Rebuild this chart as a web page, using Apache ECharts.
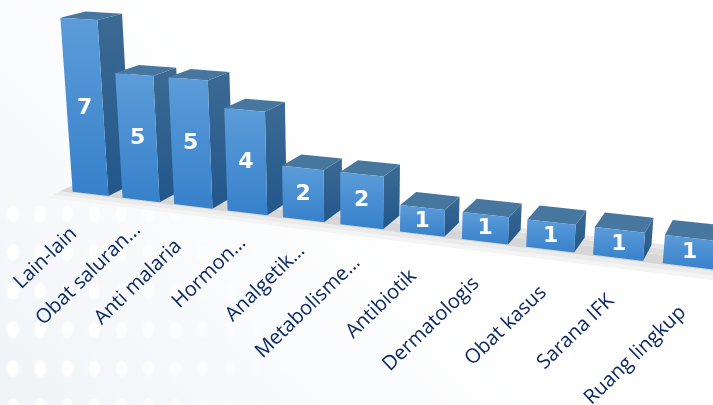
<!DOCTYPE html>
<html>
<head>
<meta charset="utf-8">
<style>html,body{margin:0;padding:0;background:#fff}#chart{width:713px;height:405px}</style>
<script src="https://cdn.jsdelivr.net/npm/echarts@6/dist/echarts.min.js"></script>
</head>
<body>
<div id="chart"></div>
<script>
const categories = ['Lain-lain','Obat saluran…','Anti malaria','Hormon…','Analgetik…','Metabolisme…','Antibiotik','Dermatologis','Obat kasus','Sarana IFK','Ruang lingkup'];
const counts = [7,5,5,4,2,2,1,1,1,1,1];

// Homography from (category X, value V, depth Z) to the page.
const WX = -0.01695, WV = -0.006, WZ = 0.0305;
function project(X, V, Z) {
  const w = 1 + WX * X + WV * V + WZ * Z;
  return [
    (72.7 + 47.77 * X + WV * 354 * V + WZ * 882 * Z) / w,
    (191.7 + 2.697 * X + WV * 4158 * V + WZ * -186 * Z) / w
  ];
}

const BAR_WIDTH = 0.72;
const NAVY = '#0a2863';
const grad = (a, b) => ({type: 'linear', x: 0, y: 0, x2: 0, y2: 1, colorStops: [{offset: 0, color: a}, {offset: 1, color: b}]});

// Nudges for the rotated category labels, relative to each bar's floor point.
const labelNudge = [[-16,37],[-3,27],[-14,37],[-4,27],[-1,28],[-4,33],[-8,39],[-8,39],[-6,40],[-6,40],[-5,43]];

// Flat-plane pixels from the cartesian axes, expressed in axis units.
function units(api, i, value) {
  const origin = api.coord([0, 0]);
  const p = api.coord([i, value]);
  return [(p[0] - origin[0]) / api.size([1, 0])[0], (origin[1] - p[1]) / api.size([0, 1])[1]];
}

function renderBar(params, api) {
  const i = api.value(0), value = api.value(1);
  const [X, V] = units(api, i, value);
  const r = X + BAR_WIDTH;
  const poly = (pts, fill) => ({type: 'polygon', shape: {points: pts}, style: {fill: fill}});
  const a = project(X, 0, 0), b = project(r, 0, 0), c = project(r, V, 0), d = project(X, V, 0);
  const e = project(r, 0, 1), f = project(r, V, 1), g = project(X, V, 1);
  const mid = project(X + BAR_WIDTH / 2, V / 2, 0);
  const floorPt = project(X + 0.35, 0, 0);
  const n = labelNudge[i];
  return {
    type: 'group',
    children: [
      poly([b, e, f, c], grad('#3c6a93', '#22578b')),
      poly([d, c, f, g], '#47779f'),
      poly([a, b, c, d], grad('#5c9cd9', '#3781cb')),
      {type: 'text', x: mid[0], y: mid[1], style: {text: String(counts[i]), fill: '#fff', font: 'bold 22px "DejaVu Sans"', align: 'center', verticalAlign: 'middle'}},
      {type: 'text', x: floorPt[0] + n[0], y: floorPt[1] + n[1], rotation: 44 * Math.PI / 180, style: {text: categories[i], fill: NAVY, font: '20px "Open Sans"', align: 'right', verticalAlign: 'middle'}}
    ]
  };
}

// Floor slab: soft lip in front, then bands that lighten towards the back.
function renderFloor() {
  const L = -0.22, R = 12;
  const band = (z0, z1, fill) => ({type: 'polygon', shape: {points: [project(L, 0, z0), project(R, 0, z0), project(R, 0, z1), project(L, 0, z1)]}, style: {fill: fill}});
  return {
    type: 'group',
    children: [
      band(-0.6, -0.35, '#f4f4f4'),
      band(-0.35, -0.08, '#ebebeb'),
      band(-0.08, 0.5, '#d6d6d6'),
      band(0.5, 0.85, '#dedede'),
      band(0.85, 1.15, '#e8e8e8')
    ]
  };
}

// Faint dotted backdrop in the lower-left corner.
const backdrop = [{
  type: 'rect', z: -10, shape: {x: 0, y: 0, width: 713, height: 405},
  style: {fill: {type: 'linear', x: 0, y: 1, x2: 0.42, y2: 0.3, colorStops: [{offset: 0, color: '#f0f4f7'}, {offset: 0.55, color: '#f9fafc'}, {offset: 1, color: '#ffffff'}]}}
}];
for (let row = 0; row < 6; row++) {
  for (let col = 0; col < 11; col++) {
    backdrop.push({
      type: 'ellipse', z: -9,
      shape: {cx: 13 + col * 27.1, cy: 214 + row * 38.6, rx: 5.5, ry: 8},
      style: {fill: '#fff', opacity: Math.max(0.1, 0.85 - col * 0.08), shadowBlur: 3, shadowColor: '#fff'},
      silent: true
    });
  }
}

const chart = echarts.init(document.getElementById('chart'), null, {renderer: 'canvas'});
chart.setOption({
  animation: false,
  backgroundColor: '#fff',
  graphic: backdrop,
  grid: {left: 0, right: 0, top: 0, bottom: 0},
  xAxis: {type: 'category', data: categories, show: false},
  yAxis: {type: 'value', min: 0, max: 8, show: false},
  series: [
    {type: 'custom', clip: false, silent: true, z: 1, renderItem: renderFloor, data: [[0, 0]]},
    {type: 'custom', clip: false, silent: true, z: 2, renderItem: renderBar, encode: {x: 0, y: 1},
     data: counts.map((v, i) => [i, v])}
  ]
});
</script>
</body>
</html>
